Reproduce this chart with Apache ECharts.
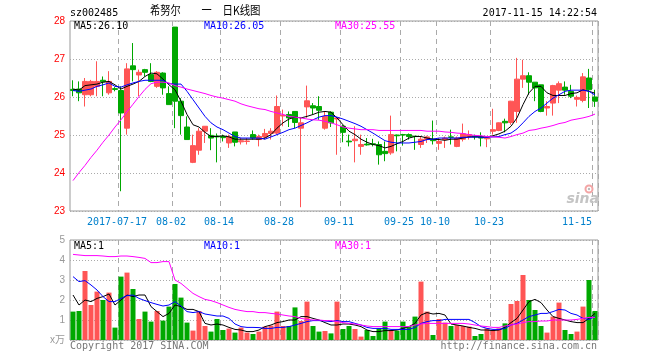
<!DOCTYPE html>
<html>
<head>
<meta charset="utf-8">
<script src="https://cdn.jsdelivr.net/npm/echarts@6/dist/echarts.min.js"></script>
<style>html,body{margin:0;padding:0;background:#fff}#c{width:660px;height:360px}</style>
</head>
<body>
<div id="c"></div>
<script>
var dates = ['2017-07-05','2017-07-06','2017-07-07','2017-07-10','2017-07-11','2017-07-12','2017-07-13','2017-07-14',
'2017-07-17',
'2017-07-18','2017-07-19','2017-07-20','2017-07-21','2017-07-24','2017-07-25','2017-07-26','2017-07-27',
'2017-08-02',
'2017-08-03','2017-08-04','2017-08-07','2017-08-08','2017-08-09','2017-08-10','2017-08-11',
'2017-08-14',
'2017-08-15','2017-08-16','2017-08-17','2017-08-18','2017-08-21','2017-08-22','2017-08-23','2017-08-24','2017-08-25',
'2017-08-28',
'2017-08-29','2017-08-30','2017-08-31','2017-09-01','2017-09-04','2017-09-05','2017-09-06','2017-09-07','2017-09-08',
'2017-09-11',
'2017-09-12','2017-09-13','2017-09-14','2017-09-15','2017-09-18','2017-09-19','2017-09-20','2017-09-21','2017-09-22',
'2017-09-25',
'2017-09-26','2017-09-27','2017-09-28','2017-09-29','2017-10-09',
'2017-10-10',
'2017-10-11','2017-10-12','2017-10-13','2017-10-16','2017-10-17','2017-10-18','2017-10-19','2017-10-20',
'2017-10-23',
'2017-10-24','2017-10-25','2017-10-26','2017-10-27','2017-10-30','2017-10-31','2017-11-01','2017-11-02','2017-11-03','2017-11-06','2017-11-07','2017-11-08','2017-11-09','2017-11-10','2017-11-13','2017-11-14',
'2017-11-15'];

var tickDates = ['2017-07-17','2017-08-02','2017-08-14','2017-08-28','2017-09-11','2017-09-25','2017-10-10','2017-10-23','2017-11-15'];

var opens  = [26.20,26.21,26.06,26.06,26.28,26.44,26.11,26.22,26.17,25.18,26.82,26.58,26.72,26.59,26.28,26.63,26.09,27.84,25.89,25.21,24.28,24.60,25.10,24.99,24.97,24.96,24.79,25.08,24.82,24.83,25.01,24.88,24.95,25.04,25.05,25.50,25.54,25.62,25.18,25.74,25.77,25.75,25.18,25.60,25.42,25.23,24.84,24.85,24.70,24.76,24.77,24.75,24.57,24.53,25.00,25.01,25.01,24.97,24.75,24.88,24.89,24.78,24.88,24.95,24.70,24.89,24.96,24.97,24.96,24.90,25.10,25.12,25.36,25.33,25.62,26.47,26.56,26.39,26.32,25.71,25.84,26.18,26.26,26.15,25.94,25.91,26.50,26.00];
var closes = [26.17,26.11,26.41,26.41,26.41,26.40,26.41,26.20,25.58,26.74,26.72,26.65,26.65,26.41,26.65,26.24,25.80,25.89,25.51,24.88,24.72,25.10,25.23,24.92,24.95,24.93,24.96,24.81,24.85,24.84,24.92,24.96,25.04,25.10,25.75,25.52,25.45,25.33,25.32,25.90,25.71,25.65,25.49,25.32,25.45,25.07,24.82,24.89,24.75,24.74,24.75,24.48,24.51,25.01,24.98,25.00,24.96,24.96,24.89,24.95,24.85,24.83,24.92,24.94,24.92,25.03,25.01,24.95,24.92,24.93,25.14,25.32,25.32,25.89,26.47,26.56,26.39,26.24,25.62,25.75,26.30,26.35,26.18,26.02,25.99,26.53,26.19,25.89];
var lows   = [26.02,25.89,25.75,26.02,26.02,26.02,26.06,26.15,23.52,25.01,26.41,26.02,26.54,26.39,26.24,26.06,25.80,25.18,25.01,24.88,24.26,24.48,24.79,24.60,24.28,24.83,24.66,24.70,24.75,24.75,24.88,24.70,24.88,24.88,25.01,25.23,25.21,25.18,23.10,25.45,25.54,25.40,25.14,25.21,24.48,24.81,24.70,24.28,24.48,24.72,24.70,24.22,24.31,24.48,24.57,24.72,24.88,24.61,24.66,24.79,24.75,24.61,24.66,24.75,24.68,24.83,24.88,24.88,24.70,24.68,25.01,25.10,25.07,25.27,25.32,26.24,26.06,25.89,25.60,25.51,25.51,25.84,26.06,25.97,25.75,25.86,25.71,25.74];
var highs  = [26.44,26.41,26.50,26.45,26.94,26.54,26.68,26.26,26.28,26.89,27.42,26.72,26.74,26.89,26.68,26.65,26.28,27.84,25.97,25.49,25.01,25.18,25.23,25.18,25.04,25.01,25.01,25.08,24.92,24.92,25.12,25.01,25.16,25.18,26.04,25.67,25.62,25.62,25.45,26.30,25.84,26.02,25.62,25.62,25.47,25.27,25.01,25.23,25.01,24.92,24.90,24.83,24.83,25.51,25.01,25.03,25.04,24.97,24.96,24.98,25.38,24.92,24.96,25.14,24.96,25.30,25.12,25.01,25.07,24.96,25.69,25.33,25.43,25.90,27.03,26.98,26.65,26.39,26.32,25.89,26.32,26.41,26.41,26.32,26.04,26.63,26.74,26.19];

var ma5  = [26.21,26.18,26.30,26.32,26.34,26.39,26.41,26.32,26.21,26.28,26.34,26.41,26.54,26.63,26.61,26.47,26.32,26.19,25.89,25.54,25.27,25.21,25.07,24.96,24.96,24.98,24.95,24.89,24.89,24.89,24.89,24.89,
            24.92,25.01,25.18,25.32,25.42,25.47,25.45,25.49,25.54,25.60,25.62,25.60,25.45,25.27,25.10,25.01,24.89,24.81,24.75,24.72,24.66,24.70,24.77,24.83,24.92,24.96,24.96,24.92,24.89,24.88,24.86,
            24.89,24.89,24.92,24.95,24.95,24.95,24.95,24.98,25.03,25.10,25.23,25.45,25.80,26.11,26.28,26.28,26.11,26.04,26.04,26.04,26.09,26.11,26.19,26.15,26.10];
var ma10 = [26.17,26.15,26.18,26.21,26.28,26.32,26.37,26.28,26.26,26.32,26.37,26.41,26.44,26.44,26.44,26.44,26.35,26.34,26.34,26.15,25.93,25.71,25.49,25.32,25.21,25.14,25.05,24.96,24.92,24.92,24.92,24.92,
            24.89,24.95,25.01,25.07,25.14,25.18,25.25,25.32,25.40,25.47,25.51,25.51,25.47,25.42,25.36,25.30,25.23,25.14,25.05,24.95,24.85,24.81,24.79,24.79,24.79,24.81,24.83,24.88,24.89,24.92,24.92,
            24.92,24.92,24.94,24.94,24.95,24.94,24.94,24.95,24.96,25.01,25.05,25.16,25.32,25.49,25.62,25.71,25.84,25.97,26.06,26.15,26.18,26.18,26.18,26.15,26.05];
var ma30 = [23.80,24.01,24.20,24.41,24.60,24.81,25.00,25.21,25.40,25.61,25.81,26.01,26.20,26.35,26.39,26.39,26.37,26.30,26.26,26.21,26.17,26.13,26.09,26.04,26.00,25.97,25.93,25.89,25.82,25.77,25.73,25.69,
            25.67,25.62,25.58,25.54,25.49,25.47,25.45,25.42,25.40,25.39,25.36,25.32,25.27,25.21,25.18,25.16,25.14,25.14,25.14,25.12,25.12,25.12,25.12,25.12,25.12,25.12,25.12,25.10,25.10,25.10,25.08,
            25.07,25.05,25.04,25.01,24.99,24.98,24.96,24.95,24.94,24.92,24.96,25.01,25.05,25.12,25.14,25.18,25.21,25.25,25.30,25.33,25.39,25.42,25.45,25.49,25.55];

var volumes = [1.42,1.45,3.45,1.75,2.42,2.0,2.37,0.62,3.17,3.37,2.55,1.05,1.42,0.92,1.45,0.97,1.67,2.8,2.12,0.87,0.47,1.45,0.7,0.42,1.05,0.5,0.57,0.37,0.62,0.37,0.3,0.42,0.67,0.72,1.42,0.7,0.7,1.63,0.95,1.92,0.7,0.42,0.45,0.33,1.92,0.55,0.7,0.55,0.17,0.5,0.2,0.58,0.92,0.5,0.47,0.92,0.7,1.17,2.92,1.42,0.25,1.05,0.87,0.7,0.75,0.7,0.67,0.2,0.3,0.58,0.47,0.58,0.83,1.8,1.95,3.25,2.0,1.5,0.7,0.37,1.17,1.87,0.5,0.3,0.42,1.67,3.0,1.45];
var vma5  = [2.25,1.75,2.0,1.92,2.08,2.17,2.3,1.75,2.0,2.25,2.17,2.25,2.25,1.67,1.42,1.17,1.33,1.75,1.67,1.53,1.53,1.42,0.83,0.75,0.8,0.75,0.63,0.53,0.5,0.42,0.42,0.5,0.67,0.75,0.87,0.92,1.0,1.0,1.17,1.17,1.08,1.0,0.87,0.75,
             0.75,0.8,0.8,0.75,0.67,0.5,0.42,0.42,0.47,0.47,0.5,0.58,0.67,0.83,1.25,1.37,1.3,1.33,1.25,0.8,0.75,0.7,0.63,0.58,0.5,0.5,0.47,0.5,0.63,0.87,1.08,1.5,1.92,2.03,1.87,1.5,1.17,1.08,1.0,0.92,0.87,0.87,1.08,1.33];
var vma10 = [3.17,2.92,2.97,2.75,2.5,2.17,1.92,1.92,2.08,2.22,2.25,2.08,1.97,1.87,1.78,1.7,1.75,1.92,1.7,1.42,1.37,1.42,1.3,1.25,1.2,1.2,1.08,0.8,0.67,0.63,0.63,0.62,0.58,0.58,0.63,0.63,0.67,0.75,0.83,0.92,0.97,0.97,0.95,0.92,
             0.97,0.92,0.92,0.83,0.75,0.63,0.58,0.58,0.58,0.53,0.53,0.53,0.53,0.63,0.83,0.92,0.97,0.97,1.03,1.03,1.03,1.03,1.03,0.87,0.67,0.58,0.53,0.53,0.58,0.75,0.83,1.0,1.17,1.25,1.33,1.33,1.42,1.53,1.5,1.33,1.25,1.08,1.03,1.17];
var vma30 = [4.28,4.25,4.22,4.22,4.22,4.2,4.17,4.17,4.2,4.2,4.17,4.13,4.08,3.87,3.87,3.92,3.92,3.0,2.83,2.58,2.33,2.17,2.03,1.97,1.87,1.75,1.63,1.53,1.47,1.42,1.42,1.37,1.37,1.33,1.3,1.25,1.2,1.17,1.08,1.03,1.0,1.0,0.97,0.97,
             0.92,0.87,0.83,0.8,0.75,0.7,0.67,0.67,0.67,0.67,0.67,0.67,0.67,0.75,0.8,0.83,0.83,0.83,0.83,0.83,0.83,0.83,0.8,0.75,0.7,0.67,0.63,0.63,0.7,0.75,0.8,0.87,0.92,0.92,0.95,0.95,1.0,1.0,1.0,1.0,1.03,1.08,1.13,1.13];

var priceTicks = [23, 28, 1];
var volumeTicks = [0, 5, 1];

var RED = '#ff5555', GREEN = '#00a800';
var MONO = '"DejaVu Sans Mono", "Liberation Mono", monospace';

var candleData = dates.map(function (d, i) { return [opens[i], closes[i], lows[i], highs[i]]; });
var volData = volumes.map(function (v, i) {
  return { value: v, itemStyle: { color: closes[i] >= opens[i] ? RED : GREEN } };
});

function isTick(idx, val) { return tickDates.indexOf(val) >= 0 || tickDates.indexOf(dates[idx]) >= 0; }

var vSplit = { show: true, interval: function (idx) { return tickDates.indexOf(dates[idx]) >= 0; },
  lineStyle: { color: '#aaaaaa', type: [5, 4], width: 1 } };
var hSplit = { show: true, lineStyle: { color: '#aaaaaa', type: [1, 2], width: 1 } };

var chart = echarts.init(document.getElementById('c'), null, { renderer: 'canvas' });

var option = {
  animation: false,
  backgroundColor: '#ffffff',
  grid: [
    { left: 70, width: 528, top: 21, height: 190, show: true, borderColor: '#999999', borderWidth: 1, backgroundColor: 'transparent' },
    { left: 70, width: 528, top: 240, height: 100, show: true, borderColor: '#999999', borderWidth: 1, backgroundColor: 'transparent' }
  ],
  xAxis: [
    { type: 'category', gridIndex: 0, data: dates, boundaryGap: true,
      axisLine: { show: false }, axisTick: { show: false },
      splitLine: vSplit,
      axisLabel: {
        interval: function (idx) { return tickDates.indexOf(dates[idx]) >= 0; },
        color: '#0080cc', fontFamily: MONO, fontSize: 10, margin: 6, padding: [0, 8, 0, 0],
        formatter: function (v) {
          if (v === tickDates[0]) return v;
          if (v === tickDates[tickDates.length - 1]) return '{last|' + v.slice(5) + '}';
          return v.slice(5);
        },
        rich: { last: { color: '#0080cc', fontFamily: MONO, fontSize: 10, padding: [0, 28, 0, 0] } }
      }
    },
    { type: 'category', gridIndex: 1, data: dates, boundaryGap: true,
      axisLine: { show: false }, axisTick: { show: false }, axisLabel: { show: false },
      splitLine: vSplit }
  ],
  yAxis: [
    { type: 'value', gridIndex: 0, min: priceTicks[0], max: priceTicks[1], interval: priceTicks[2],
      axisLine: { show: false }, axisTick: { show: false }, splitLine: hSplit,
      axisLabel: { color: '#ff0000', fontFamily: '"Liberation Sans", Arial, sans-serif', fontSize: 10, margin: 5 } },
    { type: 'value', gridIndex: 1, min: volumeTicks[0], max: volumeTicks[1], interval: volumeTicks[2],
      axisLine: { show: false }, axisTick: { show: false }, splitLine: hSplit,
      axisLabel: { color: '#999999', fontFamily: '"Liberation Sans", Arial, "Noto Sans CJK SC", sans-serif', fontSize: 10, margin: 5,
        formatter: function (v) { return v === 0 ? 'x万' : String(v); } } }
  ],
  series: [
    { type: 'candlestick', xAxisIndex: 0, yAxisIndex: 0, data: candleData, barWidth: 5,
      itemStyle: { color: RED, color0: GREEN, borderColor: RED, borderColor0: GREEN, borderWidth: 1 } },
    { type: 'line', xAxisIndex: 0, yAxisIndex: 0, data: ma5, symbol: 'none', z: 5, lineStyle: { color: '#000000', width: 1 } },
    { type: 'line', xAxisIndex: 0, yAxisIndex: 0, data: ma10, symbol: 'none', z: 5, lineStyle: { color: '#0000ff', width: 1 } },
    { type: 'line', xAxisIndex: 0, yAxisIndex: 0, data: ma30, symbol: 'none', z: 5, lineStyle: { color: '#ff00ff', width: 1 } },
    { type: 'bar', xAxisIndex: 1, yAxisIndex: 1, data: volData, barWidth: 5 },
    { type: 'line', xAxisIndex: 1, yAxisIndex: 1, data: vma5, symbol: 'none', z: 5, lineStyle: { color: '#000000', width: 1 } },
    { type: 'line', xAxisIndex: 1, yAxisIndex: 1, data: vma10, symbol: 'none', z: 5, lineStyle: { color: '#0000ff', width: 1 } },
    { type: 'line', xAxisIndex: 1, yAxisIndex: 1, data: vma30, symbol: 'none', z: 5, lineStyle: { color: '#ff00ff', width: 1 } }
  ],
  graphic: [
    { type: 'text', x: 70, y: 13.5, style: { text: 'sz002485', fill: '#000', font: '10px ' + MONO, textVerticalAlign: 'middle' } },
    { type: 'text', x: 150, y: 10, scaleX: 0.85, style: { text: '希努尔', fill: '#000', font: '12px "Noto Sans CJK SC"', textVerticalAlign: 'middle' } },
    { type: 'text', x: 206.7, y: 10, scaleX: 0.85, style: { text: '一', fill: '#000', font: '12px "Noto Sans CJK SC"', textAlign: 'center', textVerticalAlign: 'middle' } },
    { type: 'text', x: 222.5, y: 10, scaleX: 0.87, style: { text: '日K线图', fill: '#000', font: '12px "Noto Sans CJK SC"', textVerticalAlign: 'middle' } },
    { type: 'text', x: 597, y: 13.5, style: { text: '2017-11-15 14:22:54', fill: '#000', font: '10px ' + MONO, textAlign: 'right', textVerticalAlign: 'middle' } },
    { type: 'text', x: 74, y: 26.5, z: 10, style: { text: 'MA5:26.10', fill: '#000', font: '10px ' + MONO, textVerticalAlign: 'middle' } },
    { type: 'text', x: 204, y: 26.5, z: 10, style: { text: 'MA10:26.05', fill: '#0000ff', font: '10px ' + MONO, textVerticalAlign: 'middle' } },
    { type: 'text', x: 335, y: 26.5, z: 10, style: { text: 'MA30:25.55', fill: '#ff00ff', font: '10px ' + MONO, textVerticalAlign: 'middle' } },
    { type: 'text', x: 74, y: 246.5, z: 10, style: { text: 'MA5:1', fill: '#000', font: '10px ' + MONO, textVerticalAlign: 'middle' } },
    { type: 'text', x: 204, y: 246.5, z: 10, style: { text: 'MA10:1', fill: '#0000ff', font: '10px ' + MONO, textVerticalAlign: 'middle' } },
    { type: 'text', x: 335, y: 246.5, z: 10, style: { text: 'MA30:1', fill: '#ff00ff', font: '10px ' + MONO, textVerticalAlign: 'middle' } },
    { type: 'text', x: 70, y: 346, style: { text: 'Copyright 2017 SINA.COM', fill: '#777', font: '10px ' + MONO, textVerticalAlign: 'middle' } },
    { type: 'text', x: 597, y: 346, style: { text: 'http://finance.sina.com.cn', fill: '#777', font: '10px ' + MONO, textAlign: 'right', textVerticalAlign: 'middle' } },
    { type: 'circle', shape: { cx: 589, cy: 189, r: 3.5 }, style: { fill: 'none', stroke: '#f3a5a5', lineWidth: 2 }, z: 1 },
    { type: 'circle', shape: { cx: 589, cy: 189, r: 1.2 }, style: { fill: '#bbbbbb' }, z: 1 },
    { type: 'text', x: 599, y: 199, z: 1, style: { text: 'sina', fill: '#c4c4c4', font: 'italic bold 14px "DejaVu Sans", sans-serif', textAlign: 'right', textVerticalAlign: 'middle' } }
  ]
};
chart.setOption(option);
</script>
</body>
</html>
